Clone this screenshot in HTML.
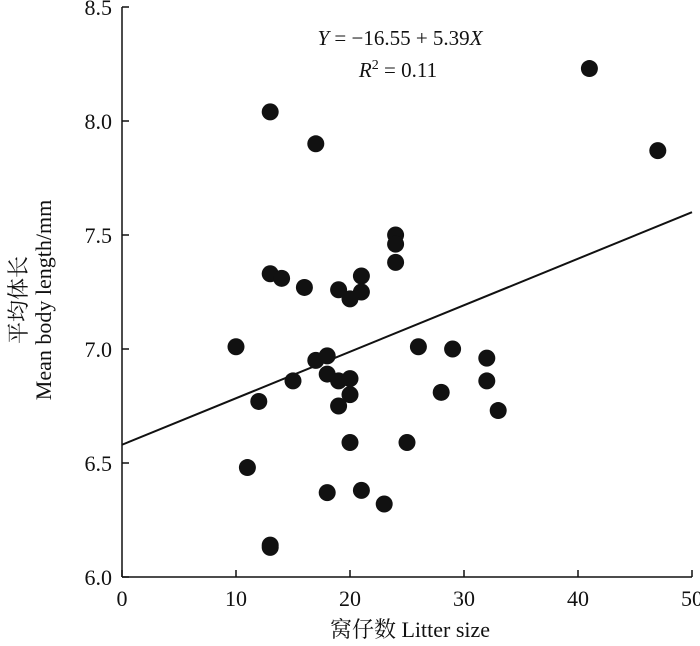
<!DOCTYPE html>
<html><head><meta charset="utf-8"><style>
body{margin:0;background:#fff}
svg text{font-family:"Liberation Serif","Noto Serif CJK SC",serif;fill:#111}
</style></head><body>
<svg width="700" height="641" viewBox="0 0 700 641" xmlns="http://www.w3.org/2000/svg">
<g id="ax"></g><g id="pts"></g>
<text x="400" y="45" font-size="21" text-anchor="middle"><tspan font-style="italic">Y</tspan> = −16.55 + 5.39<tspan font-style="italic">X</tspan></text>
<text x="398" y="77" font-size="21" text-anchor="middle"><tspan font-style="italic">R</tspan><tspan dy="-8" font-size="14">2</tspan><tspan dy="8"> = 0.11</tspan></text>
<text x="410" y="637" font-size="22" text-anchor="middle">窝仔数 Litter size</text>
<text transform="translate(26,300) rotate(-90)" font-size="22" text-anchor="middle">平均体长</text>
<text transform="translate(51,300) rotate(-90)" font-size="22" text-anchor="middle">Mean body length/mm</text>
</svg>
<script>
const xTicks=[0,10,20,30,40,50];
const yTicks=[6.0,6.5,7.0,7.5,8.0,8.5];
const xs=[41,13,17,47,24,24,24,13,14,16,19,21,21,20,10,26,29,32,17,18,18,15,19,20,20,32,28,12,19,33,20,25,11,18,21,23,13,13];
const ys=[8.23,8.04,7.90,7.87,7.50,7.46,7.38,7.33,7.31,7.27,7.26,7.32,7.25,7.22,7.01,7.01,7.00,6.96,6.95,6.97,6.89,6.86,6.86,6.87,6.80,6.86,6.81,6.77,6.75,6.73,6.59,6.59,6.48,6.37,6.38,6.32,6.14,6.13];
const fitX=[0,50];
const fitY=[6.58,7.60];
const NS="http://www.w3.org/2000/svg";
const X=v=>122+(v-0)/50*570;
const Y=v=>577-(v-6)/2.5*570;
function mk(p,t,a){const e=document.createElementNS(NS,t);for(const k in a)e.setAttribute(k,a[k]);p.appendChild(e);return e;}
const ax=document.getElementById('ax'),pts=document.getElementById('pts');
let l=mk(ax,'line',{x1:X(0),y1:Y(6),x2:X(50),y2:Y(6),stroke:'#111','stroke-width':1.5});


l=mk(ax,'line',{x1:X(0),y1:Y(6),x2:X(0),y2:Y(8.5),stroke:'#111','stroke-width':1.5});


xTicks.forEach(t=>{
 const tk=mk(ax,'line',{x1:X(t),y1:Y(6),x2:X(t),y2:Y(6)-7,stroke:'#111','stroke-width':1.5});
 
 
 const tx=mk(ax,'text',{x:X(t),y:606,'font-size':22,'text-anchor':'middle'});tx.textContent=t;
 
 
});
yTicks.forEach(t=>{
 const tk=mk(ax,'line',{x1:X(0),y1:Y(t),x2:X(0)+7,y2:Y(t),stroke:'#111','stroke-width':1.5});
 
 
 const tx=mk(ax,'text',{x:112,y:Y(t)+8,'font-size':22,'text-anchor':'end'});tx.textContent=t.toFixed(1);
 
 
});
const fl=mk(pts,'line',{x1:X(fitX[0]),y1:Y(fitY[0]),x2:X(fitX[1]),y2:Y(fitY[1]),stroke:'#111','stroke-width':2});


xs.forEach((x,i)=>{
 const c=mk(pts,'circle',{cx:X(x),cy:Y(ys[i]),r:8.5,fill:'#111'});
 
 
});
</script>
</body></html>
